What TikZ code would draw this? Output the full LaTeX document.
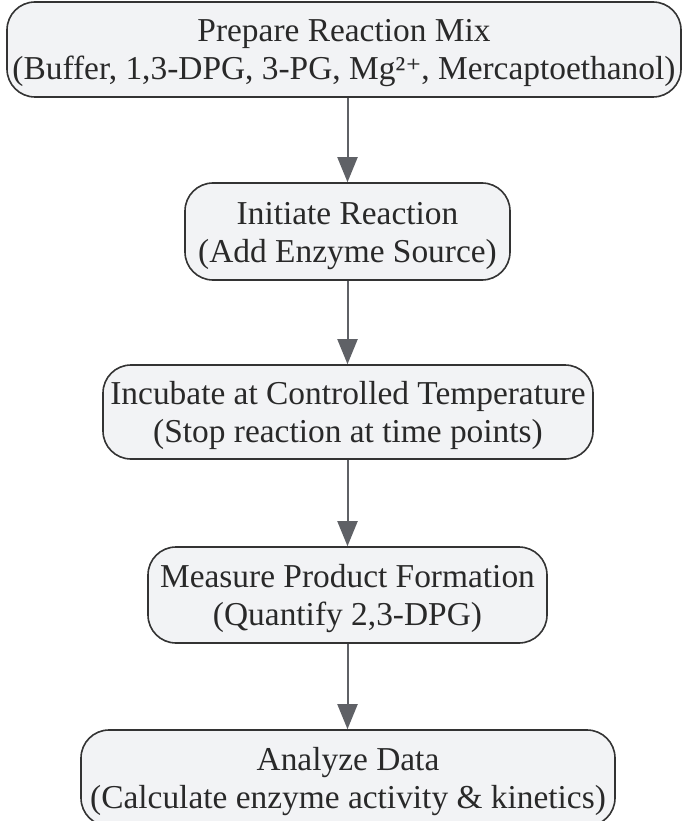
\documentclass[tikz,border=0pt]{standalone}
\usepackage{fontspec}
\setmainfont{Liberation Serif}
\newfontfamily\supfont{DejaVu Serif}
\usetikzlibrary{arrows.meta}
\usepackage{xcolor}
\definecolor{boxfill}{HTML}{F2F3F5}
\definecolor{boxline}{HTML}{333333}
\definecolor{linkgray}{HTML}{5F6166}
\newcommand{\twolines}[2]{\raisebox{7.5pt}[0pt][0pt]{\begin{tabular}[t]{@{}c@{}}#1\\#2\end{tabular}}}

\begin{document}
\begin{tikzpicture}[x=1pt, y=-1pt,
 stage/.style={draw=boxline, line width=1.6pt, fill=boxfill, rounded corners=28pt,
  text=boxline!80!black, font=\fontsize{33.4}{38}\selectfont, inner sep=0pt},
 link/.style={draw=linkgray, line width=2pt, -{Triangle[length=25pt, width=20pt]}}]
\useasboundingbox (0,0) rectangle (688,821);
\node[stage, minimum width=674, minimum height=95] (mix) at (344,49.5)
 {\twolines{Prepare Reaction Mix}{(Buffer, 1,3-DPG, 3-PG, Mg²{\supfont\fontsize{30}{38}\selectfont ⁺}, Mercaptoethanol)}};
\node[stage, minimum width=325, minimum height=97] (start) at (347.5,231.5)
 {\twolines{Initiate Reaction}{(Add Enzyme Source)}};
\node[stage, minimum width=490, minimum height=94] (incubate) at (348,412)
 {\twolines{Incubate at Controlled Temperature}{(Stop reaction at time points)}};
\node[stage, minimum width=399, minimum height=96] (measure) at (347.5,595)
 {\twolines{Measure Product Formation}{(Quantify 2,3-DPG)}};
\node[stage, minimum width=534, minimum height=96] (analyze) at (348,778)
 {\twolines{Analyze Data}{(Calculate enzyme activity \& kinetics)}};
% links
\foreach \a/\b in {mix/start, start/incubate, incubate/measure, measure/analyze}
 \draw[link] (\a.south -| start.south) -- (\b.north -| start.north);
\end{tikzpicture}
\end{document}
